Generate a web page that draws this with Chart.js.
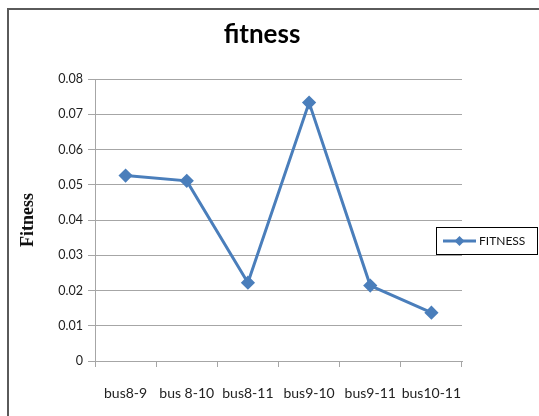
<!DOCTYPE html>
<html>
<head>
<meta charset="utf-8">
<script src="https://cdn.jsdelivr.net/npm/chart.js@4/dist/chart.umd.min.js"></script>
<style>
  html, body { margin: 0; padding: 0; background: #fff; overflow: hidden; }
  #wrap { position: relative; width: 539px; height: 416px; }
</style>
</head>
<body>
<div id="wrap"><canvas id="c" width="539" height="416"></canvas></div>
<script>
// Fitness per bus pair
const categories = ['bus8-9', 'bus 8-10', 'bus8-11', 'bus9-10', 'bus9-11', 'bus10-11'];
const fitnessValues = [0.0526, 0.0511, 0.0222, 0.0733, 0.0214, 0.0137];
const yTicks = [0, 0.01, 0.02, 0.03, 0.04, 0.05, 0.06, 0.07, 0.08];
const seriesName = 'FITNESS';
const chartTitle = 'fitness';

const lineColor = '#4a7ebb';
const gridColor = '#a6a6a6';
const textFont = 'Lato, "Open Sans", sans-serif';

// Frame, title and the boxed legend on the right
const framePlugin = {
  id: 'frame',
  afterDraw(chart) {
    const ctx = chart.ctx;
    ctx.save();
    ctx.strokeStyle = '#5a5a5a';
    ctx.lineWidth = 2;
    ctx.beginPath();
    ctx.moveTo(8, 416);
    ctx.lineTo(8, 9);
    ctx.lineTo(539, 9);
    ctx.stroke();

    // title
    ctx.fillStyle = '#000';
    ctx.font = 'bold 26px ' + textFont;
    ctx.textAlign = 'center';
    ctx.textBaseline = 'middle';
    ctx.fillText(chartTitle, 262, 35);

    // legend box
    const bx = 436.5, by = 227.5, bw = 101, bh = 27;
    ctx.fillStyle = '#fff';
    ctx.fillRect(bx, by, bw, bh);
    ctx.strokeStyle = '#000';
    ctx.lineWidth = 1;
    ctx.strokeRect(bx, by, bw, bh);
    const ly = by + bh / 2;
    ctx.strokeStyle = lineColor;
    ctx.lineWidth = 3;
    ctx.beginPath();
    ctx.moveTo(443, ly);
    ctx.lineTo(476, ly);
    ctx.stroke();
    ctx.fillStyle = lineColor;
    ctx.beginPath();
    ctx.moveTo(459.5, ly - 5);
    ctx.lineTo(464.5, ly);
    ctx.lineTo(459.5, ly + 5);
    ctx.lineTo(454.5, ly);
    ctx.closePath();
    ctx.fill();
    ctx.fillStyle = '#111';
    ctx.font = '12px ' + textFont;
    ctx.textBaseline = 'middle';
    ctx.textAlign = 'left';
    ctx.fillText(seriesName, 479, ly + 0.5);
    ctx.restore();
  }
};

new Chart(document.getElementById('c'), {
  type: 'line',
  data: {
    labels: categories,
    datasets: [{
      label: seriesName,
      data: fitnessValues,
      borderColor: lineColor,
      backgroundColor: lineColor,
      borderWidth: 3,
      pointStyle: 'rectRot',
      pointRadius: 5,
      pointBackgroundColor: lineColor,
      pointBorderColor: lineColor,
      tension: 0
    }]
  },
  options: {
    responsive: false,
    animation: false,
    events: [],
    layout: { padding: { left: 0, right: 77, top: 79, bottom: 0 } },
    plugins: {
      legend: { display: false },
      tooltip: { enabled: false },
      title: { display: false }
    },
    scales: {
      x: {
        offset: true,
        grid: {
          offset: true,
          drawOnChartArea: false,
          drawTicks: true,
          tickLength: 6,
          color: gridColor,
          lineWidth: 1
        },
        border: { display: true, color: gridColor, width: 1 },
        ticks: {
          color: '#222',
          font: { family: textFont, size: 14 },
          padding: 18,
          maxRotation: 0,
          autoSkip: false
        },
        afterFit(scale) { scale.height = 55; }
      },
      y: {
        min: 0,
        max: 0.08,
        afterBuildTicks(scale) { scale.ticks = yTicks.map(v => ({ value: v })); },
        grid: {
          color: gridColor,
          lineWidth: 1,
          tickLength: 7,
          drawTicks: true
        },
        border: { display: true, color: gridColor, width: 1 },
        ticks: {
          color: '#222',
          font: { family: textFont, size: 12.5 },
          padding: 5,
          callback: v => (v === 0 ? '0' : v.toFixed(2))
        },
        title: {
          display: true,
          text: 'Fitness',
          color: '#111',
          font: { family: '"Liberation Serif", "DejaVu Serif", serif', size: 18, weight: 'bold' },
          padding: { top: 18, bottom: 0 }
        },
        afterFit(scale) { scale.width = 95; }
      }
    }
  },
  plugins: [framePlugin]
});
</script>
</body>
</html>
